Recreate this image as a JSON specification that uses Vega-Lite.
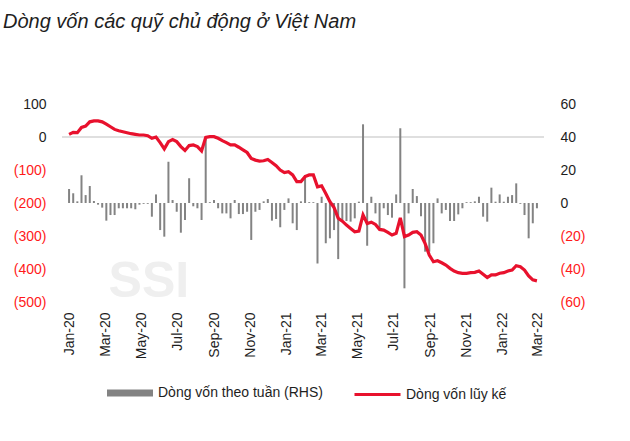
{
  "$schema": "https://vega.github.io/schema/vega-lite/v6.json",
  "autosize": "none",
  "width": 482,
  "height": 198,
  "padding": {"left": 62, "top": 104, "right": 86, "bottom": 139},
  "background": "white",
  "config": {"view": {"stroke": null}, "font": "Liberation Sans", "axis": {"labelOverlap": false}},
  "title": {
    "text": "Dòng vốn các quỹ chủ động ở Việt Nam",
    "anchor": "start",
    "frame": "group",
    "dx": -59,
    "offset": 65,
    "font": "Liberation Sans",
    "fontSize": 20,
    "fontStyle": "italic",
    "fontWeight": "normal",
    "color": "#1e1e1e"
  },
  "data": {
    "values": [
      {"date": "2020-01-03", "flow": 8.5, "cum": 8},
      {"date": "2020-01-10", "flow": 5.9, "cum": 14},
      {"date": "2020-01-17", "flow": 1, "cum": 13},
      {"date": "2020-01-24", "flow": 16.8, "cum": 29},
      {"date": "2020-01-31", "flow": 4.8, "cum": 33},
      {"date": "2020-02-07", "flow": 10.3, "cum": 46},
      {"date": "2020-02-14", "flow": 1.2, "cum": 49},
      {"date": "2020-02-21", "flow": -1, "cum": 49},
      {"date": "2020-02-28", "flow": -2.8, "cum": 46},
      {"date": "2020-03-06", "flow": -10.7, "cum": 39},
      {"date": "2020-03-13", "flow": -7.3, "cum": 31},
      {"date": "2020-03-20", "flow": -7.3, "cum": 23},
      {"date": "2020-03-27", "flow": -3.2, "cum": 19},
      {"date": "2020-04-03", "flow": -3.2, "cum": 16},
      {"date": "2020-04-10", "flow": -3.2, "cum": 13},
      {"date": "2020-04-17", "flow": -3.2, "cum": 10},
      {"date": "2020-04-24", "flow": -3.8, "cum": 8},
      {"date": "2020-05-01", "flow": -1, "cum": 6},
      {"date": "2020-05-08", "flow": -0.5, "cum": 6},
      {"date": "2020-05-15", "flow": -0.5, "cum": 4},
      {"date": "2020-05-22", "flow": -8.3, "cum": -4},
      {"date": "2020-05-29", "flow": 5.2, "cum": 0},
      {"date": "2020-06-05", "flow": -16.4, "cum": -17},
      {"date": "2020-06-12", "flow": -20.4, "cum": -36},
      {"date": "2020-06-19", "flow": 25, "cum": -14},
      {"date": "2020-06-26", "flow": 1.8, "cum": -8},
      {"date": "2020-07-03", "flow": -5.3, "cum": -14},
      {"date": "2020-07-10", "flow": -18, "cum": -29},
      {"date": "2020-07-17", "flow": -10.3, "cum": -41},
      {"date": "2020-07-24", "flow": 15, "cum": -26},
      {"date": "2020-07-31", "flow": -2, "cum": -24},
      {"date": "2020-08-07", "flow": -3.2, "cum": -29},
      {"date": "2020-08-14", "flow": -10.3, "cum": -42},
      {"date": "2020-08-21", "flow": 39.8, "cum": -1},
      {"date": "2020-08-28", "flow": 0.5, "cum": 1},
      {"date": "2020-09-04", "flow": 1.8, "cum": 1},
      {"date": "2020-09-11", "flow": -3.2, "cum": -4},
      {"date": "2020-09-18", "flow": -6.3, "cum": -11},
      {"date": "2020-09-25", "flow": -6.3, "cum": -17},
      {"date": "2020-10-02", "flow": -9.3, "cum": -24},
      {"date": "2020-10-09", "flow": 1.8, "cum": -24},
      {"date": "2020-10-16", "flow": -6.7, "cum": -31},
      {"date": "2020-10-23", "flow": -6.7, "cum": -39},
      {"date": "2020-10-30", "flow": -5.3, "cum": -47},
      {"date": "2020-11-06", "flow": -22.4, "cum": -65},
      {"date": "2020-11-13", "flow": -5.3, "cum": -70},
      {"date": "2020-11-20", "flow": -4.2, "cum": -73},
      {"date": "2020-11-27", "flow": 1, "cum": -72},
      {"date": "2020-12-04", "flow": 2.4, "cum": -68},
      {"date": "2020-12-11", "flow": -10.7, "cum": -77},
      {"date": "2020-12-18", "flow": -9.7, "cum": -87},
      {"date": "2020-12-25", "flow": -14.7, "cum": -100},
      {"date": "2021-01-01", "flow": -4.2, "cum": -108},
      {"date": "2021-01-08", "flow": 2.8, "cum": -105},
      {"date": "2021-01-15", "flow": -12.3, "cum": -115},
      {"date": "2021-01-22", "flow": -16.4, "cum": -135},
      {"date": "2021-01-29", "flow": 1, "cum": -135},
      {"date": "2021-02-05", "flow": 17, "cum": -120},
      {"date": "2021-02-12", "flow": 0.5, "cum": -115},
      {"date": "2021-02-19", "flow": 0.5, "cum": -115},
      {"date": "2021-02-26", "flow": -36.6, "cum": -151},
      {"date": "2021-03-05", "flow": 3.8, "cum": -148},
      {"date": "2021-03-12", "flow": -24.4, "cum": -171},
      {"date": "2021-03-19", "flow": -21.4, "cum": -196},
      {"date": "2021-03-26", "flow": -16.4, "cum": -214},
      {"date": "2021-04-02", "flow": -34, "cum": -246},
      {"date": "2021-04-09", "flow": -10.3, "cum": -255},
      {"date": "2021-04-16", "flow": -10.9, "cum": -267},
      {"date": "2021-04-23", "flow": -11.3, "cum": -277},
      {"date": "2021-04-30", "flow": -9.3, "cum": -287},
      {"date": "2021-05-07", "flow": 0.8, "cum": -285},
      {"date": "2021-05-14", "flow": 47.7, "cum": -236},
      {"date": "2021-05-21", "flow": -25.9, "cum": -262},
      {"date": "2021-05-28", "flow": 3.8, "cum": -258},
      {"date": "2021-06-04", "flow": -6.3, "cum": -265},
      {"date": "2021-06-11", "flow": -15, "cum": -280},
      {"date": "2021-06-18", "flow": -3.2, "cum": -282},
      {"date": "2021-06-25", "flow": -7.3, "cum": -289},
      {"date": "2021-07-02", "flow": -8.9, "cum": -297},
      {"date": "2021-07-09", "flow": 5.2, "cum": -292},
      {"date": "2021-07-16", "flow": 45.3, "cum": -245},
      {"date": "2021-07-23", "flow": -51.7, "cum": -302},
      {"date": "2021-07-30", "flow": -6.3, "cum": -297},
      {"date": "2021-08-06", "flow": 8.5, "cum": -289},
      {"date": "2021-08-13", "flow": 4.2, "cum": -287},
      {"date": "2021-08-20", "flow": -8, "cum": -297},
      {"date": "2021-08-27", "flow": -29.5, "cum": -323},
      {"date": "2021-09-03", "flow": -29.5, "cum": -358},
      {"date": "2021-09-10", "flow": -24.4, "cum": -378},
      {"date": "2021-09-17", "flow": 2.8, "cum": -375},
      {"date": "2021-09-24", "flow": -6.3, "cum": -381},
      {"date": "2021-10-01", "flow": -4.2, "cum": -388},
      {"date": "2021-10-08", "flow": -10.9, "cum": -398},
      {"date": "2021-10-15", "flow": -10.9, "cum": -406},
      {"date": "2021-10-22", "flow": -6.9, "cum": -411},
      {"date": "2021-10-29", "flow": -3.2, "cum": -413},
      {"date": "2021-11-05", "flow": 0.5, "cum": -413},
      {"date": "2021-11-12", "flow": 0.5, "cum": -411},
      {"date": "2021-11-19", "flow": 1, "cum": -410},
      {"date": "2021-11-26", "flow": 3.8, "cum": -406},
      {"date": "2021-12-03", "flow": -8.3, "cum": -416},
      {"date": "2021-12-10", "flow": -11.3, "cum": -426},
      {"date": "2021-12-17", "flow": 9.3, "cum": -418},
      {"date": "2021-12-24", "flow": 0.8, "cum": -418},
      {"date": "2021-12-31", "flow": 5.2, "cum": -413},
      {"date": "2022-01-07", "flow": 0.8, "cum": -411},
      {"date": "2022-01-14", "flow": 3.8, "cum": -406},
      {"date": "2022-01-21", "flow": 4.8, "cum": -403},
      {"date": "2022-01-28", "flow": 11.9, "cum": -390},
      {"date": "2022-02-04", "flow": -0.5, "cum": -393},
      {"date": "2022-02-11", "flow": -7.3, "cum": -403},
      {"date": "2022-02-18", "flow": -21.4, "cum": -421},
      {"date": "2022-02-25", "flow": -12.3, "cum": -433},
      {"date": "2022-03-04", "flow": -3.2, "cum": -436}
    ]
  },
  "layer": [
    {
      "layer": [
        {
          "data": {"values": [{}]},
          "mark": {"type": "text", "font": "Liberation Sans", "fontSize": 50, "fontWeight": "bold", "color": "#efefef", "align": "center", "baseline": "alphabetic"},
          "encoding": {
            "x": {"datum": {"year": 2020, "month": 5, "date": 17, "utc": true}, "type": "temporal"},
            "y": {"datum": -485, "type": "quantitative", "scale": {"domain": [-500, 100], "nice": false, "zero": false}, "axis": null},
            "text": {"value": "SSI"}
          }
        },
        {
          "data": {"values": [{}]},
          "mark": {"type": "rule", "color": "#d4d4d4", "strokeWidth": 1.5},
          "encoding": {"y": {"datum": 0, "type": "quantitative", "axis": null}}
        }
      ]
    },
    {
      "mark": {"type": "bar", "width": 2},
      "encoding": {
        "x": {
          "field": "date",
          "type": "temporal",
          "scale": {
            "type": "utc",
            "domain": [
              {"year": 2019, "month": 12, "date": 30, "hours": 12, "utc": true},
              {"year": 2022, "month": 3, "date": 7, "hours": 12, "utc": true}
            ]
          },
          "axis": {
            "title": null,
            "format": "%b-%y",
            "labelAngle": -90,
            "ticks": false,
            "domain": false,
            "grid": false,
            "labelPadding": 10,
            "labelOffset": 2,
            "tickCount": {"interval": "month", "step": 2},
            "labelFont": "Liberation Sans",
            "labelFontSize": 14,
            "labelColor": "#1e1e1e",
            "labelFlush": false,
            "labelOverlap": false
          }
        },
        "y": {
          "field": "flow",
          "type": "quantitative",
          "scale": {"domain": [-60, 60], "nice": false, "zero": false},
          "axis": {
            "title": null,
            "orient": "right",
            "values": [-60, -40, -20, 0, 20, 40, 60],
            "labelExpr": "datum.value < 0 ? '(' + (-datum.value) + ')' : '' + datum.value",
            "labelColor": {"condition": {"test": "datum.value < 0", "value": "#ff1a1a"}, "value": "#1e1e1e"},
            "labelFont": "Liberation Sans",
            "labelFontSize": 14,
            "labelPadding": 16,
            "labelOverlap": false,
            "labelFlush": false,
            "ticks": false,
            "domain": false,
            "grid": false
          }
        },
        "fill": {
          "datum": "Dòng vốn theo tuần (RHS)",
          "type": "nominal",
          "scale": {"range": ["#838383"]},
          "legend": {
            "orient": "none",
            "legendX": 45,
            "legendY": 266,
            "title": null,
            "padding": 0,
            "symbolType": "M-1,-0.15H1V0.15H-1Z",
            "symbolSize": 2116,
            "symbolStrokeWidth": 0,
            "labelFont": "Liberation Sans",
            "labelFontSize": 14,
            "labelColor": "#1e1e1e",
            "labelOffset": 5,
            "labelLimit": 400
          }
        }
      }
    },
    {
      "mark": {"type": "line", "strokeWidth": 3.2},
      "encoding": {
        "x": {"field": "date", "type": "temporal"},
        "y": {
          "field": "cum",
          "type": "quantitative",
          "scale": {"domain": [-500, 100], "nice": false, "zero": false},
          "axis": {
            "title": null,
            "orient": "left",
            "values": [-500, -400, -300, -200, -100, 0, 100],
            "labelExpr": "datum.value < 0 ? '(' + (-datum.value) + ')' : '' + datum.value",
            "labelColor": {"condition": {"test": "datum.value < 0", "value": "#ff1a1a"}, "value": "#1e1e1e"},
            "labelFont": "Liberation Sans",
            "labelFontSize": 14,
            "labelPadding": 16,
            "labelOverlap": false,
            "labelFlush": false,
            "ticks": false,
            "domain": false,
            "grid": false
          }
        },
        "stroke": {
          "datum": "Dòng vốn lũy kế",
          "type": "nominal",
          "scale": {"range": ["#e8112d"]},
          "legend": {
            "orient": "none",
            "legendX": 291,
            "legendY": 266,
            "title": null,
            "padding": 0,
            "symbolType": "stroke",
            "symbolSize": 2116,
            "symbolStrokeWidth": 3,
            "labelFont": "Liberation Sans",
            "labelFontSize": 14,
            "labelColor": "#1e1e1e",
            "labelOffset": 4,
            "labelLimit": 400
          }
        }
      }
    }
  ],
  "resolve": {"scale": {"y": "independent"}}
}
